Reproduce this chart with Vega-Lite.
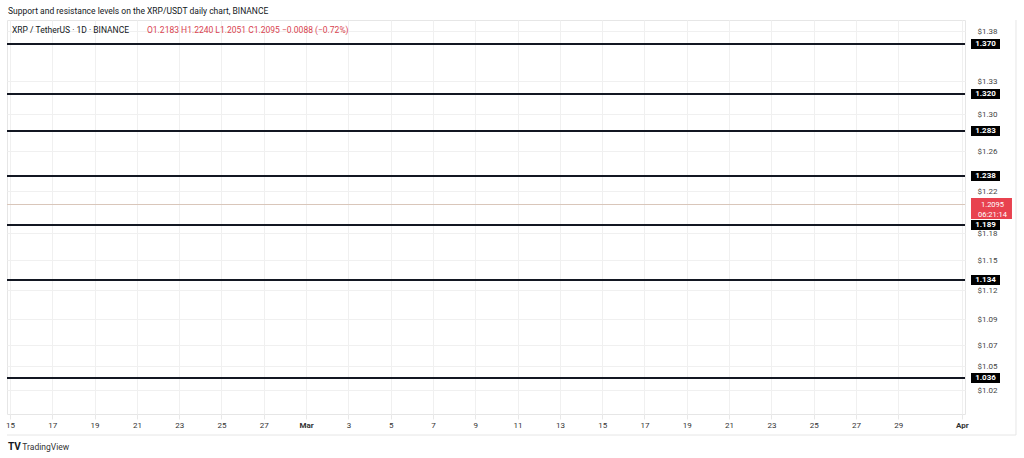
{
  "$schema": "https://vega.github.io/schema/vega-lite/v6.json",
  "width": 958,
  "height": 394,
  "autosize": {"type": "none"},
  "padding": {"left": 7, "top": 20, "right": 59, "bottom": 44},
  "background": "#ffffff",
  "datasets": {
    "levels": [
      {"price": 1.370},
      {"price": 1.320},
      {"price": 1.283},
      {"price": 1.238},
      {"price": 1.189},
      {"price": 1.134},
      {"price": 1.036}
    ],
    "current": [
      {"price": 1.2095, "label": "1.2095\n06:21:14"}
    ],
    "one": [{}]
  },
  "layer": [
    {
      "data": {"name": "levels"},
      "mark": {"type": "rule", "color": "#131722", "strokeWidth": 2},
      "encoding": {
        "y": {
          "field": "price",
          "type": "quantitative",
          "scale": {"domain": [1.0, 1.394], "nice": false, "zero": false},
          "axis": {
            "orient": "right",
            "title": null,
            "values": [1.383, 1.333, 1.300, 1.263, 1.223, 1.181, 1.154, 1.124, 1.095, 1.069, 1.048, 1.024],
            "tickCount": 30,
            "format": "$.2f",
            "domain": false,
            "ticks": false,
            "grid": true,
            "gridColor": "#f0f0f0",
            "labelAlign": "center",
            "labelPadding": 22,
            "labelColor": "#444444",
            "labelFontSize": 8,
            "labelOverlap": false,
            "labelFlush": false
          }
        }
      }
    },
    {
      "data": {"name": "current"},
      "mark": {"type": "rule", "color": "#d9c6ba", "strokeWidth": 1},
      "encoding": {"y": {"field": "price", "type": "quantitative"}}
    },
    {
      "data": {"name": "levels"},
      "mark": {"type": "rect", "color": "#000000", "height": 10},
      "encoding": {
        "y": {"field": "price", "type": "quantitative"},
        "x": {
          "datum": {"year": 2023, "month": 4, "date": 1, "hours": 10, "minutes": 30, "utc": true},
          "type": "temporal",
          "scale": {
            "type": "utc",
            "domain": [
              {"year": 2023, "month": 2, "date": 14, "hours": 20, "minutes": 36, "utc": true},
              {"year": 2023, "month": 4, "date": 1, "hours": 3, "minutes": 42, "utc": true}
            ]
          },
          "axis": {
            "title": null,
            "values": [
              {"year": 2023, "month": 2, "date": 15, "utc": true},
              {"year": 2023, "month": 2, "date": 17, "utc": true},
              {"year": 2023, "month": 2, "date": 19, "utc": true},
              {"year": 2023, "month": 2, "date": 21, "utc": true},
              {"year": 2023, "month": 2, "date": 23, "utc": true},
              {"year": 2023, "month": 2, "date": 25, "utc": true},
              {"year": 2023, "month": 2, "date": 27, "utc": true},
              {"year": 2023, "month": 3, "date": 1, "utc": true},
              {"year": 2023, "month": 3, "date": 3, "utc": true},
              {"year": 2023, "month": 3, "date": 5, "utc": true},
              {"year": 2023, "month": 3, "date": 7, "utc": true},
              {"year": 2023, "month": 3, "date": 9, "utc": true},
              {"year": 2023, "month": 3, "date": 11, "utc": true},
              {"year": 2023, "month": 3, "date": 13, "utc": true},
              {"year": 2023, "month": 3, "date": 15, "utc": true},
              {"year": 2023, "month": 3, "date": 17, "utc": true},
              {"year": 2023, "month": 3, "date": 19, "utc": true},
              {"year": 2023, "month": 3, "date": 21, "utc": true},
              {"year": 2023, "month": 3, "date": 23, "utc": true},
              {"year": 2023, "month": 3, "date": 25, "utc": true},
              {"year": 2023, "month": 3, "date": 27, "utc": true},
              {"year": 2023, "month": 3, "date": 29, "utc": true},
              {"year": 2023, "month": 4, "date": 1, "utc": true}
            ],
            "tickCount": 40,
            "labelExpr": "utcdate(datum.value) == 1 ? utcFormat(datum.value, '%b') : utcFormat(datum.value, '%-d')",
            "labelFontWeight": {"condition": {"test": "utcdate(datum.value) == 1", "value": "bold"}, "value": "normal"},
            "domain": false,
            "grid": true,
            "gridColor": "#f0f0f0",
            "tickColor": "#e8e8e8",
            "tickSize": 5,
            "labelPadding": 2,
            "labelColor": "#333333",
            "labelFontSize": 8,
            "labelFlush": false,
            "labelOverlap": false
          }
        },
        "x2": {"datum": {"year": 2023, "month": 4, "date": 2, "hours": 19, "minutes": 24, "utc": true}}
      }
    },
    {
      "data": {"name": "levels"},
      "mark": {"type": "text", "color": "#ffffff", "fontSize": 8, "fontWeight": "bold", "align": "center", "baseline": "middle"},
      "encoding": {
        "y": {"field": "price", "type": "quantitative"},
        "x": {"datum": {"year": 2023, "month": 4, "date": 2, "hours": 3, "utc": true}, "type": "temporal"},
        "text": {"field": "price", "type": "quantitative", "format": ".3f"}
      }
    },
    {
      "data": {"name": "current"},
      "mark": {"type": "rect", "color": "#e8424f", "height": 21, "yOffset": 4},
      "encoding": {
        "y": {"field": "price", "type": "quantitative"},
        "x": {"datum": {"year": 2023, "month": 4, "date": 1, "hours": 10, "minutes": 30, "utc": true}, "type": "temporal"},
        "x2": {"datum": {"year": 2023, "month": 4, "date": 3, "hours": 9, "utc": true}}
      }
    },
    {
      "data": {"name": "current"},
      "mark": {"type": "text", "color": "#ffffff", "fontSize": 7.5, "align": "center", "baseline": "middle", "lineBreak": "\n", "lineHeight": 10},
      "encoding": {
        "y": {"field": "price", "type": "quantitative"},
        "x": {"datum": {"year": 2023, "month": 4, "date": 2, "hours": 10, "minutes": 54, "utc": true}, "type": "temporal"},
        "text": {"field": "label"}
      }
    },
    {
      "data": {"name": "one"},
      "mark": {"type": "text", "text": "XRP / TetherUS · 1D · BINANCE", "color": "#131722", "fontSize": 8.5, "align": "left", "baseline": "middle"},
      "encoding": {
        "x": {"datum": {"year": 2023, "month": 2, "date": 15, "hours": 2, "minutes": 18, "utc": true}, "type": "temporal"},
        "y": {"datum": 1.384, "type": "quantitative"}
      }
    },
    {
      "data": {"name": "one"},
      "mark": {"type": "text", "text": "O1.2183 H1.2240 L1.2051 C1.2095 −0.0088 (−0.72%)", "color": "#d9434f", "fontSize": 8.5, "align": "left", "baseline": "middle"},
      "encoding": {
        "x": {"datum": {"year": 2023, "month": 2, "date": 21, "hours": 11, "minutes": 27, "utc": true}, "type": "temporal"},
        "y": {"datum": 1.384, "type": "quantitative"}
      }
    },
    {
      "data": {"name": "one"},
      "mark": {"type": "text", "text": "Support and resistance levels on the XRP/USDT daily chart, BINANCE", "color": "#131722", "fontSize": 8.5, "align": "left", "baseline": "middle"},
      "encoding": {
        "x": {"datum": {"year": 2023, "month": 2, "date": 14, "hours": 21, "minutes": 44, "utc": true}, "type": "temporal"},
        "y": {"datum": 1.403, "type": "quantitative"}
      }
    },
    {
      "data": {"name": "one"},
      "mark": {"type": "text", "text": "TV", "color": "#131722", "fontSize": 10, "fontWeight": "bold", "align": "left", "baseline": "middle"},
      "encoding": {
        "x": {"datum": {"year": 2023, "month": 2, "date": 14, "hours": 21, "minutes": 44, "utc": true}, "type": "temporal"},
        "y": {"datum": 0.967, "type": "quantitative"}
      }
    },
    {
      "data": {"name": "one"},
      "mark": {"type": "text", "text": "TradingView", "color": "#333333", "fontSize": 8.5, "align": "left", "baseline": "middle"},
      "encoding": {
        "x": {"datum": {"year": 2023, "month": 2, "date": 15, "hours": 14, "utc": true}, "type": "temporal"},
        "y": {"datum": 0.967, "type": "quantitative"}
      }
    },
    {
      "data": {"name": "one"},
      "mark": {"type": "rule", "color": "#e6e6e6", "strokeWidth": 1},
      "encoding": {
        "x": {"datum": {"year": 2023, "month": 4, "date": 3, "hours": 13, "minutes": 34, "utc": true}, "type": "temporal"},
        "y": {"datum": 1.394, "type": "quantitative"},
        "y2": {"datum": 0.979}
      }
    },
    {
      "data": {"name": "one"},
      "mark": {"type": "rule", "color": "#e6e6e6", "strokeWidth": 1},
      "encoding": {
        "x": {"datum": {"year": 2023, "month": 2, "date": 14, "hours": 20, "minutes": 36, "utc": true}, "type": "temporal"},
        "x2": {"datum": {"year": 2023, "month": 4, "date": 3, "hours": 13, "minutes": 34, "utc": true}},
        "y": {"datum": 0.979, "type": "quantitative"}
      }
    }
  ],
  "config": {
    "font": "Roboto",
    "view": {"stroke": "#e6e6e6"}
  }
}
